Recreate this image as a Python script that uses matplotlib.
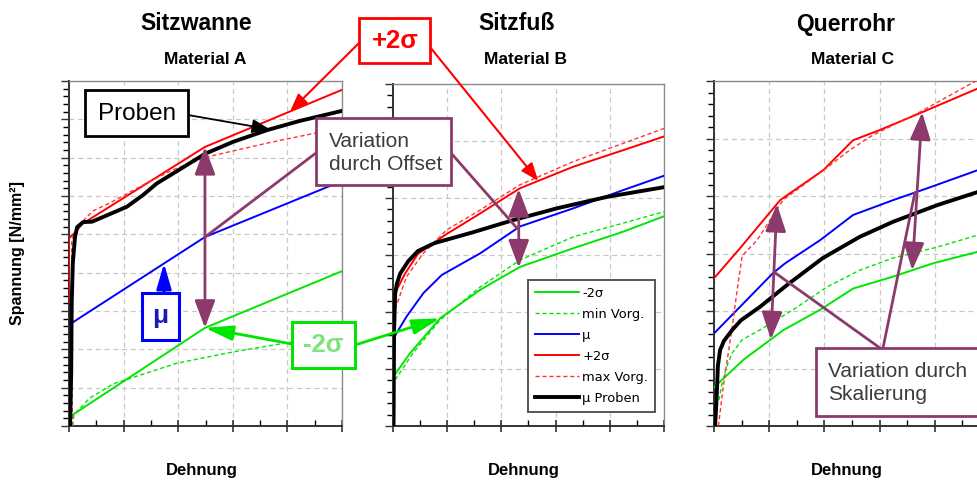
import numpy as np
import matplotlib
matplotlib.use("Agg")
import matplotlib.pyplot as plt
from matplotlib.patches import Rectangle, ConnectionPatch, ArrowStyle
from matplotlib.ticker import MultipleLocator

plt.rcParams['font.family'] = ['Liberation Sans', 'DejaVu Sans']

# ---------------- data (arbitrary units) ----------------
panel_titles = ["Sitzwanne", "Sitzfuß", "Querrohr"]
panel_materials = ["Material A", "Material B", "Material C"]
legend_labels = ["-2σ", "min Vorg.", "μ", "+2σ", "max Vorg.", "μ Proben"]

# Panel A (Sitzwanne)
a_m2s_x = [0, 2.49, 5.0]
a_m2s_y = [0.23, 2.56, 4.04]
a_minv_x = [0.07, 0.09, 0.38, 0.81, 1.98, 3.0, 3.99, 5.0]
a_minv_y = [0, 0.29, 0.73, 1.10, 1.64, 1.93, 2.17, 2.37]
a_mu_x = [0, 2.49, 5.0]
a_mu_y = [2.64, 4.93, 6.39]
a_p2s_x = [0, 0, 0.11, 0.24, 2.49, 5.0]
a_p2s_y = [3.24, 4.90, 5.04, 5.27, 7.28, 8.77]
a_maxv_x = [0.06, 0.05, 0.15, 0.31, 0.44, 0.75, 1.36, 1.90, 2.53, 3.63, 4.51, 5.0]
a_maxv_y = [0, 4.85, 5.17, 5.43, 5.61, 5.82, 6.29, 6.68, 7.02, 7.38, 7.64, 7.80]
a_prob_x = [0.02, 0.04, 0.05, 0.07, 0.11, 0.15, 0.26, 0.42, 0.62, 0.93, 1.06, 1.36,
            1.61, 1.91, 2.49, 3.00, 3.63, 4.23, 5.0]
a_prob_y = [0, 1.38, 3.24, 4.25, 4.93, 5.19, 5.32, 5.33, 5.45, 5.64, 5.72, 6.03,
            6.33, 6.59, 7.10, 7.41, 7.72, 7.96, 8.22]

# Panel B (Sitzfuß)
b_m2s_x = [0.01, 0.31, 0.87, 1.61, 2.34, 3.33, 4.25, 5.0]
b_m2s_y = [0.87, 1.27, 1.89, 2.39, 2.79, 3.12, 3.41, 3.68]
b_minv_x = [0.04, 0.37, 0.87, 1.61, 2.34, 3.33, 4.25, 5.0]
b_minv_y = [0.81, 1.28, 1.86, 2.44, 2.91, 3.32, 3.56, 3.76]
b_mu_x = [0.01, 0.25, 0.56, 0.90, 1.61, 2.34, 3.33, 4.25, 5.0]
b_mu_y = [1.54, 1.92, 2.33, 2.65, 3.03, 3.50, 3.82, 4.14, 4.39]
b_p2s_x = [0.01, 0.22, 0.46, 0.96, 1.61, 2.34, 3.33, 4.25, 5.0]
b_p2s_y = [2.28, 2.67, 3.02, 3.35, 3.73, 4.17, 4.55, 4.84, 5.08]
b_maxv_x = [0.04, 0.25, 0.56, 0.99, 1.61, 2.34, 3.33, 4.25, 5.0]
b_maxv_y = [2.05, 2.62, 3.03, 3.44, 3.79, 4.23, 4.64, 4.96, 5.22]
b_prob_x = [0.01, 0.02, 0.04, 0.07, 0.13, 0.28, 0.46, 0.77, 1.48, 2.21, 3.03, 3.95, 5.0]
b_prob_y = [0, 1.68, 2.32, 2.49, 2.67, 2.89, 3.07, 3.21, 3.40, 3.61, 3.82, 4.02, 4.19]

# Panel C (Querrohr)
c_m2s_x = [0.01, 0.53, 1.26, 1.92, 2.52, 3.25, 3.97, 4.78, 5.0]
c_m2s_y = [0.68, 1.15, 1.67, 2.02, 2.39, 2.60, 2.83, 3.03, 3.10]
c_minv_x = [0.09, 0.14, 0.22, 0.33, 0.51, 0.83, 1.43, 2.05, 2.64, 3.24, 4.04, 4.78, 5.0]
c_minv_y = [0.45, 0.71, 1.01, 1.27, 1.50, 1.67, 2.02, 2.42, 2.71, 2.92, 3.11, 3.32, 3.37]
c_mu_x = [0.01, 0.53, 1.07, 1.29, 1.92, 2.52, 3.25, 3.85, 4.78, 5.0]
c_mu_y = [1.62, 2.13, 2.66, 2.83, 3.23, 3.67, 3.93, 4.13, 4.45, 4.53]
c_p2s_x = [0.01, 0.47, 1.20, 1.98, 2.52, 3.01, 3.73, 4.78, 5.0]
c_p2s_y = [2.58, 3.09, 3.93, 4.45, 4.97, 5.15, 5.44, 5.87, 5.96]
c_maxv_x = [0.08, 0.16, 0.24, 0.33, 0.42, 0.51, 0.78, 1.25, 1.92, 2.46, 2.88, 3.73, 4.78, 5.0]
c_maxv_y = [0, 0.63, 1.15, 1.72, 2.37, 2.96, 3.23, 3.93, 4.40, 4.80, 5.06, 5.46, 6.02, 6.10]
c_prob_x = [0.02, 0.05, 0.07, 0.11, 0.18, 0.33, 0.49, 0.83, 1.32, 1.97, 2.64, 3.24, 4.04, 4.78, 5.0]
c_prob_y = [0, 0.54, 1.04, 1.32, 1.48, 1.67, 1.84, 2.07, 2.45, 2.92, 3.29, 3.55, 3.84, 4.07, 4.14]

panel_ymax = [9, 6, 6]

# ---------------- styling ----------------
W, H = 978, 482
GREEN = '#00e600'
RED = '#ff0000'
BLUE = '#0000ff'
PURPLE = '#8b3a6b'
TXT = '#3c3c3c'


def fx(px):
    return px / W


def fy(py):
    return 1 - py / H


fig = plt.figure(figsize=(W / 100, H / 100), dpi=100)
fig.patch.set_facecolor('white')

ax_boxes = [(69, 342, 81), (393, 664, 84), (714, 990, 81)]
axes = []
for (l, r, t) in ax_boxes:
    ax = fig.add_axes([fx(l), fy(426), (r - l) / W, (426 - t) / H])
    axes.append(ax)

series = [
    (a_m2s_x, a_m2s_y, a_minv_x, a_minv_y, a_mu_x, a_mu_y, a_p2s_x, a_p2s_y, a_maxv_x, a_maxv_y, a_prob_x, a_prob_y),
    (b_m2s_x, b_m2s_y, b_minv_x, b_minv_y, b_mu_x, b_mu_y, b_p2s_x, b_p2s_y, b_maxv_x, b_maxv_y, b_prob_x, b_prob_y),
    (c_m2s_x, c_m2s_y, c_minv_x, c_minv_y, c_mu_x, c_mu_y, c_p2s_x, c_p2s_y, c_maxv_x, c_maxv_y, c_prob_x, c_prob_y),
]

styles = [
    dict(color=GREEN, lw=1.4, ls='-'),
    dict(color=GREEN, lw=1.0, ls=(0, (3, 2))),
    dict(color=BLUE, lw=1.4, ls='-'),
    dict(color=RED, lw=1.4, ls='-'),
    dict(color='#ff3333', lw=1.0, ls=(0, (3, 2))),
    dict(color='black', lw=2.8, ls='-'),
]

legend_handles = None
for i, (ax, s) in enumerate(zip(axes, series)):
    handles = []
    for k in range(6):
        h, = ax.plot(s[2 * k], s[2 * k + 1], label=legend_labels[k], zorder=3 + (k == 5), **styles[k])
        handles.append(h)
    if i == 1:
        legend_handles = handles
    ax.set_xlim(0, 5)
    ax.set_ylim(0, panel_ymax[i])
    ax.xaxis.set_major_locator(MultipleLocator(1))
    ax.xaxis.set_minor_locator(MultipleLocator(0.5))
    ax.yaxis.set_major_locator(MultipleLocator(1))
    ax.yaxis.set_minor_locator(MultipleLocator(0.2))
    ax.grid(True, which='major', color='#c8c8c8', ls=(0, (4, 3)), lw=0.9)
    ax.tick_params(labelbottom=False, labelleft=False, colors='#333333')
    ax.tick_params(axis='x', which='major', direction='inout', length=8, width=1.2)
    ax.tick_params(axis='x', which='minor', direction='in', length=4, width=1.0)
    ax.tick_params(axis='y', which='major', direction='out', length=6, width=1.0)
    ax.tick_params(axis='y', which='minor', direction='out', length=4, width=1.0)
    for sp in ['top', 'right']:
        ax.spines[sp].set_color('#8c8c8c')
        ax.spines[sp].set_linewidth(1.0)
    for sp in ['left', 'bottom']:
        ax.spines[sp].set_color('#333333')
        ax.spines[sp].set_linewidth(1.4)
    ax.set_axisbelow(True)

# legend in panel B
leg = axes[1].legend(legend_handles, legend_labels, loc='upper left',
                     bbox_to_anchor=(fx(528), fy(280)), bbox_transform=fig.transFigure,
                     borderaxespad=0, fancybox=False, framealpha=1, edgecolor='#555555',
                     prop=dict(family='DejaVu Sans', size=9.4), handlelength=3.4,
                     handletextpad=0.25, labelspacing=0.62, borderpad=0.5)
leg.get_frame().set_linewidth(1.4)

# titles and axis labels
title_pos = [(196, 517, 846), (205, 525, 853)]
for i in range(3):
    fig.text(fx(title_pos[0][i]), fy(24), panel_titles[i], ha='center', va='center',
             fontsize=16.5, fontweight='bold')
    fig.text(fx(title_pos[1][i]), fy(60), panel_materials[i], ha='center', va='center',
             fontsize=12.5, fontweight='bold')
for cx in (202, 524, 847):
    fig.text(fx(cx), fy(471), 'Dehnung', ha='center', va='center', fontsize=12, fontweight='bold')
fig.text(fx(18), fy(253), 'Spannung [N/mm²]', ha='center', va='center', rotation=90,
         fontsize=11.5, fontweight='bold')


# ---------------- annotations ----------------
def box(x0, y0, x1, y1, ec, lw=2.0):
    r = Rectangle((fx(x0), fy(y1)), (x1 - x0) / W, (y1 - y0) / H, transform=fig.transFigure,
                  facecolor='white', edgecolor=ec, lw=lw, zorder=6)
    fig.add_artist(r)


def arrow(A, B, color, cA, cB, axA=None, axB=None, style='-|>', lw=1.5, ms=12, hl=0.8, hw=0.35):
    st = ArrowStyle(style, head_length=hl, head_width=hw) if style != '-' else '-'
    con = ConnectionPatch(xyA=A, coordsA=cA, xyB=B, coordsB=cB, axesA=axA, axesB=axB,
                          arrowstyle=st, color=color, lw=lw, mutation_scale=ms,
                          shrinkA=0, shrinkB=0, zorder=5)
    fig.add_artist(con)


def on(xs, ys, x):
    return (x, float(np.interp(x, xs, ys)))


F = fig.transFigure
axA, axB, axC = axes

# Proben
arrow((fx(188), fy(115)), on(a_prob_x, a_prob_y, 3.68), 'black', F, 'data', None, axA, lw=1.3, ms=12, hl=0.9, hw=0.35)
box(85, 90, 188, 136, 'black', 2.0)
fig.text(fx(137), fy(114), 'Proben', ha='center', va='center', fontsize=17.5, color='black', zorder=7)

# +2σ
arrow((fx(359), fy(43)), on(a_p2s_x, a_p2s_y, 4.05), RED, F, 'data', None, axA, lw=1.5, ms=12, hl=0.9, hw=0.35)
arrow((fx(430), fy(47)), on(b_p2s_x, b_p2s_y, 2.68), RED, F, 'data', None, axB, lw=1.5, ms=12, hl=0.9, hw=0.35)
box(359, 18, 430, 63, RED, 2.0)
fig.text(fx(395), fy(41), '+2σ', ha='center', va='center', fontsize=18.5, fontweight='bold', color=RED, zorder=7)

# -2σ
arrow((fx(292), fy(344)), on(a_m2s_x, a_m2s_y, 2.49), GREEN, F, 'data', None, axA, lw=2.0, ms=13, hl=1.3, hw=0.35)
arrow((fx(355), fy(345)), on(b_m2s_x, b_m2s_y, 0.87), GREEN, F, 'data', None, axB, lw=2.0, ms=13, hl=1.3, hw=0.35)
box(292, 322, 355, 368, GREEN, 2.2)
fig.text(fx(323), fy(345), '-2σ', ha='center', va='center', fontsize=18.5, fontweight='bold', color='#7ee27e', zorder=7)

# μ
arrow((fx(164), fy(293)), on(a_mu_x, a_mu_y, 1.74), BLUE, F, 'data', None, axA, lw=2.0, ms=13, hl=1.2, hw=0.35)
box(142, 293, 179, 340, BLUE, 2.2)
fig.text(fx(160.5), fy(316), 'μ', ha='center', va='center', fontsize=19, fontweight='bold', color='#1a1ab8', zorder=7)

# Variation durch Offset
arrow((fx(316), fy(153)), on(a_mu_x, a_mu_y, 2.49), PURPLE, F, 'data', None, axA, style='-', lw=2.0)
arrow((fx(451), fy(153)), on(b_mu_x, b_mu_y, 2.29), PURPLE, F, 'data', None, axB, style='-', lw=2.0)
arrow(on(a_p2s_x, a_p2s_y, 2.49), on(a_m2s_x, a_m2s_y, 2.49), PURPLE, 'data', 'data', axA, axA,
      style='<|-|>', lw=2.0, ms=14, hl=1.2, hw=0.45)
arrow(on(b_p2s_x, b_p2s_y, 2.32), on(b_m2s_x, b_m2s_y, 2.32), PURPLE, 'data', 'data', axB, axB,
      style='<|-|>', lw=2.0, ms=14, hl=1.2, hw=0.45)
box(316, 118, 451, 185, PURPLE, 2.0)
fig.text(fx(329), fy(153), 'Variation\ndurch Offset', ha='left', va='center', fontsize=15,
         color=TXT, linespacing=1.25, zorder=7)

# Variation durch Skalierung
arrow(on(c_p2s_x, c_p2s_y, 1.14), on(c_m2s_x, c_m2s_y, 1.03), PURPLE, 'data', 'data', axC, axC,
      style='<|-|>', lw=2.0, ms=14, hl=1.2, hw=0.45)
arrow(on(c_p2s_x, c_p2s_y, 3.77), on(c_m2s_x, c_m2s_y, 3.59), PURPLE, 'data', 'data', axC, axC,
      style='<|-|>', lw=2.0, ms=14, hl=1.2, hw=0.45)
arrow((fx(880), fy(348)), on(c_mu_x, c_mu_y, 1.09), PURPLE, F, 'data', None, axC, style='-', lw=2.0)
arrow((fx(883), fy(348)), on(c_mu_x, c_mu_y, 3.64), PURPLE, F, 'data', None, axC, style='-', lw=2.0)
box(816, 348, 1000, 416, PURPLE, 2.0)
fig.text(fx(828), fy(383), 'Variation durch\nSkalierung', ha='left', va='center', fontsize=15,
         color=TXT, linespacing=1.25, zorder=7)

fig.savefig('out.png', dpi=100, facecolor='white')
